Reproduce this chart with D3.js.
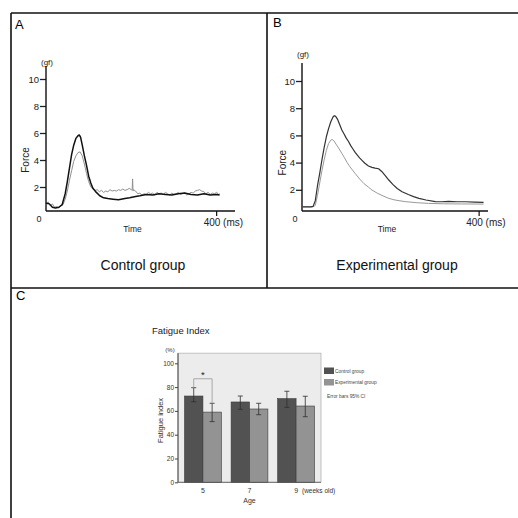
<!DOCTYPE html>
<html>
<head>
<meta charset="utf-8">
<script src="https://cdn.jsdelivr.net/npm/d3@7"></script>
<style>
  body { margin: 0; background: #fff; }
  svg { display: block; font-family: "Liberation Sans", Arial, sans-serif; }
</style>
</head>
<body>
<script>
// ---- data ----
// panel A, control group traces (ms, gf)
var ctlBlackT = [0,8,15,22,30,38,45,50,55,60,65,70,75,78,81,85,90,95,100,105,110,118,126,135,145,157,170,185,196,210,220,235,250,265,280,295,310,325,340,355,370,385,400,407];
var ctlBlackF = [0.8,0.75,0.5,0.45,0.5,0.7,1.5,2.4,3.4,4.4,5.1,5.6,5.8,5.85,5.7,5.1,4.3,3.6,2.8,2.3,1.9,1.6,1.35,1.2,1.15,1.1,1.05,1.15,1.2,1.3,1.35,1.45,1.4,1.5,1.45,1.4,1.5,1.55,1.45,1.4,1.5,1.4,1.45,1.4];
var ctlGrayT = [0,5,10,15,20,25,30,35,40,45,50,55,60,65,70,75,80,85,90,95,100,105,110,115,120,125,130,135,140,145,150,155,160,165,170,175,180,185,190,195,200,202,203,204,205,210,215,220,225,230,235,240,245,250,255,260,265,270,275,280,285,290,295,300,305,310,315,320,325,330,335,340,345,350,355,360,365,370,375,380,385,390,395,400,405,407];
var ctlGrayF = [0.7,0.9,0.6,0.75,0.5,0.55,0.45,0.6,0.7,1.1,1.7,2.5,3.2,3.9,4.3,4.55,4.6,4.3,3.7,3.0,2.4,2.0,1.85,1.75,1.8,1.65,1.75,1.6,1.7,1.65,1.8,1.7,1.75,1.7,1.8,1.75,1.85,1.75,1.8,1.9,1.8,1.8,2.6,1.7,1.8,1.7,1.5,1.55,1.4,1.5,1.45,1.6,1.5,1.55,1.4,1.6,1.5,1.55,1.45,1.6,1.5,1.4,1.55,1.45,1.5,1.6,1.45,1.5,1.55,1.4,1.5,1.6,1.55,1.7,1.75,1.8,1.7,1.65,1.5,1.6,1.45,1.55,1.5,1.6,1.45,1.5];

// panel B, experimental group traces (ms, gf)
var expDarkT = [0,20,25,30,35,40,45,50,55,60,65,70,73,76,80,85,90,95,100,105,110,115,120,125,130,136,142,150,158,165,173,180,188,196,205,215,226,240,252,264,280,301,315,331,350,369,390,410];
var expDarkF = [0.75,0.75,0.78,1.2,2.3,3.2,4.2,5.1,5.9,6.5,7.0,7.35,7.45,7.4,7.2,6.8,6.4,6.1,5.8,5.55,5.25,5.0,4.75,4.55,4.35,4.15,3.95,3.75,3.65,3.6,3.55,3.35,3.05,2.72,2.4,2.1,1.86,1.65,1.5,1.37,1.25,1.13,1.12,1.15,1.12,1.12,1.1,1.08];
var expGrayT = [0,25,30,35,40,45,50,55,60,65,68,72,78,84,90,96,102,108,114,120,130,140,150,158,170,183,196,210,233,260,286,320,360,410];
var expGrayF = [0.75,0.75,0.85,1.6,2.5,3.4,4.2,4.9,5.4,5.65,5.7,5.6,5.3,5.0,4.68,4.35,4.0,3.7,3.45,3.2,2.8,2.45,2.2,1.98,1.75,1.55,1.37,1.25,1.13,1.05,1.0,0.97,0.96,0.95];

var forceTicks = [2, 4, 6, 8, 10];

// panel C, fatigue index (%)
var ages = ["5", "7", "9"];
var groups = ["Control group", "Experimental group"];
var controlMean = [72.5, 67.5, 70.3];
var controlLo = [67.7, 61.3, 63.0];
var controlHi = [79.5, 72.5, 76.5];
var expMean = [59.0, 61.6, 64.1];
var expLo = [51.0, 56.8, 55.1];
var expHi = [66.4, 66.4, 72.3];
var fiTicks = [0, 20, 40, 60, 80, 100];

var svg = d3.select("body").append("svg")
    .attr("width", 518)
    .attr("height", 518);

// frame lines
var frame = svg.append("g").attr("stroke", "#111").attr("stroke-width", 1.6);
frame.append("line").attr("x1", 11).attr("x2", 518).attr("y1", 13).attr("y2", 13);
frame.append("line").attr("x1", 11).attr("x2", 11).attr("y1", 13).attr("y2", 518);
frame.append("line").attr("x1", 267).attr("x2", 267).attr("y1", 13).attr("y2", 288);
frame.append("line").attr("x1", 11).attr("x2", 518).attr("y1", 288).attr("y2", 288);

// panel letters
svg.append("text").attr("x", 15).attr("y", 29).attr("font-size", 13).text("A");
svg.append("text").attr("x", 273).attr("y", 27).attr("font-size", 13).text("B");
svg.append("text").attr("x", 16).attr("y", 300).attr("font-size", 13).text("C");

function zip(ts, fs) {
  return ts.map(function(t, i) { return [t, fs[i]]; });
}

// draws one force trace panel
function tracePanel(opt) {
  var g = svg.append("g");
  var x = d3.scaleLinear().domain([0, opt.xmax]).range([opt.x0, opt.x1]);
  var y = d3.scaleLinear().domain([0, 10]).range([opt.y0, opt.y10]);

  var yAxis = g.append("g")
      .attr("transform", "translate(" + opt.x0 + ",0)")
      .call(d3.axisLeft(y).tickValues(forceTicks).tickSize(6).tickPadding(1).tickSizeOuter(0));
  yAxis.select(".domain").remove();
  yAxis.selectAll("text").attr("font-size", 9.5).attr("font-family", "Liberation Sans, Arial, sans-serif").attr("fill", "#222");
  yAxis.selectAll("line").attr("stroke", "#222").attr("stroke-width", 1.3);

  g.append("line")
      .attr("x1", opt.x0).attr("x2", opt.x0)
      .attr("y1", opt.axisTop).attr("y2", opt.axisY)
      .attr("stroke", "#111").attr("stroke-width", 1.4);
  g.append("line")
      .attr("x1", opt.x0).attr("x2", opt.x1)
      .attr("y1", opt.axisY).attr("y2", opt.axisY)
      .attr("stroke", "#111").attr("stroke-width", 1.4);
  g.append("line")
      .attr("x1", x(400)).attr("x2", x(400))
      .attr("y1", opt.axisY).attr("y2", opt.axisY + 5)
      .attr("stroke", "#111").attr("stroke-width", 1.2);

  g.append("text").attr("x", opt.x0 - 7).attr("y", opt.axisY + 11)
      .attr("font-size", 9).attr("text-anchor", "middle").attr("fill", "#222").text("0");
  g.append("text").attr("x", x(400) - 13).attr("y", opt.axisY + 15)
      .attr("font-size", 10).attr("fill", "#222").text("400 (ms)");
  g.append("text").attr("x", (opt.x0 + opt.x1) / 2 - 8).attr("y", opt.axisY + 21)
      .attr("font-size", 8.5).attr("text-anchor", "middle").attr("fill", "#222").text("Time");
  g.append("text").attr("x", opt.x0 + 1).attr("y", opt.gfY)
      .attr("font-size", 8).attr("text-anchor", "middle").attr("fill", "#222").text("(gf)");
  g.append("text")
      .attr("transform", "translate(" + opt.forceX + "," + y(4) + ") rotate(-90)")
      .attr("font-size", 10).attr("text-anchor", "middle").attr("fill", "#222").text("Force");

  var line = d3.line()
      .x(function(d) { return x(d[0]); })
      .y(function(d) { return y(d[1]); });

  opt.series.forEach(function(s) {
    g.append("path")
        .datum(s.data)
        .attr("fill", "none")
        .attr("stroke", s.color)
        .attr("stroke-width", s.width)
        .attr("stroke-linejoin", "round")
        .attr("d", line);
  });

  svg.append("text").attr("x", opt.captionX).attr("y", 270)
      .attr("font-size", 14).attr("text-anchor", "middle").attr("fill", "#111").text(opt.caption);
}

tracePanel({
  x0: 46, x1: 235, xmax: 443, y0: 214, y10: 79, axisTop: 66, axisY: 211,
  gfY: 65, forceX: 29, captionX: 143, caption: "Control group",
  series: [
    { data: zip(ctlGrayT, ctlGrayF), color: "#909090", width: 1 },
    { data: zip(ctlBlackT, ctlBlackF), color: "#111", width: 1.5 }
  ]
});

tracePanel({
  x0: 302, x1: 488, xmax: 420, y0: 217, y10: 81, axisTop: 63, axisY: 211,
  gfY: 57, forceX: 286, captionX: 397, caption: "Experimental group",
  series: [
    { data: zip(expGrayT, expGrayF), color: "#9a9a9a", width: 1 },
    { data: zip(expDarkT, expDarkF), color: "#333", width: 1.2 }
  ]
});

// ---- panel C: bar chart ----
var c = svg.append("g");
var xb = d3.scaleBand().domain(ages).range([178, 321]).paddingInner(0.21).paddingOuter(0.14);
var xg = d3.scaleBand().domain(groups).range([0, xb.bandwidth()]);
var yb = d3.scaleLinear().domain([0, 100]).range([482.3, 363.3]);
var colors = d3.scaleOrdinal().domain(groups).range(["#525252", "#939393"]);

c.append("text").attr("x", 152).attr("y", 334).attr("font-size", 9.5).attr("fill", "#222").text("Fatigue Index");

c.append("rect")
    .attr("x", 178).attr("y", yb(108.5))
    .attr("width", 143).attr("height", yb(0) - yb(108.5))
    .attr("fill", "#ececec").attr("stroke", "#b5b5b5").attr("stroke-width", 0.8);

var rows = ages.map(function(a, i) {
  return [
    { age: a, group: groups[0], v: controlMean[i], lo: controlLo[i], hi: controlHi[i] },
    { age: a, group: groups[1], v: expMean[i], lo: expLo[i], hi: expHi[i] }
  ];
});
var flat = [].concat.apply([], rows);

c.selectAll(".bar")
    .data(flat)
  .enter().append("rect")
    .attr("class", "bar")
    .attr("x", function(d) { return xb(d.age) + xg(d.group); })
    .attr("width", xg.bandwidth())
    .attr("y", function(d) { return yb(d.v); })
    .attr("height", function(d) { return yb(0) - yb(d.v); })
    .attr("fill", function(d) { return colors(d.group); })
    .attr("stroke", "#3a3a3a")
    .attr("stroke-width", 0.6);

var eb = c.selectAll(".err")
    .data(flat)
  .enter().append("g")
    .attr("class", "err")
    .attr("stroke", "#2e2e2e")
    .attr("stroke-width", 0.8);
eb.append("line")
    .attr("x1", function(d) { return xb(d.age) + xg(d.group) + xg.bandwidth() / 2; })
    .attr("x2", function(d) { return xb(d.age) + xg(d.group) + xg.bandwidth() / 2; })
    .attr("y1", function(d) { return yb(d.lo); })
    .attr("y2", function(d) { return yb(d.hi); });
["lo", "hi"].forEach(function(k) {
  eb.append("line")
      .attr("x1", function(d) { return xb(d.age) + xg(d.group) + xg.bandwidth() / 2 - 2.5; })
      .attr("x2", function(d) { return xb(d.age) + xg(d.group) + xg.bandwidth() / 2 + 2.5; })
      .attr("y1", function(d) { return yb(d[k]); })
      .attr("y2", function(d) { return yb(d[k]); });
});

// significance bracket between the two 5-week bars
var bx1 = xb("5") + xg(groups[0]) + xg.bandwidth() / 2;
var bx2 = xb("5") + xg(groups[1]) + xg.bandwidth() / 2;
var byTop = yb(87);
c.append("path")
    .attr("d", "M" + bx1 + "," + yb(controlHi[0]) + "V" + byTop + "H" + bx2 + "V" + yb(expHi[0]))
    .attr("fill", "none").attr("stroke", "#a8a8a8").attr("stroke-width", 1);
c.append("text").attr("x", (bx1 + bx2) / 2).attr("y", byTop - 0.5)
    .attr("font-size", 9.5).attr("text-anchor", "middle").attr("fill", "#222").text("*");

// axes
var ya = c.append("g")
    .attr("transform", "translate(178,0)")
    .call(d3.axisLeft(yb).tickValues(fiTicks).tickSize(3).tickPadding(1).tickSizeOuter(0));
ya.select(".domain").attr("d", "M0," + yb(108.5) + "V" + yb(0)).attr("stroke", "#444");
ya.selectAll("text").attr("font-size", 6.5).attr("fill", "#333");
ya.selectAll("line").attr("stroke", "#444");

c.append("line").attr("x1", 178).attr("x2", 321).attr("y1", yb(0)).attr("y2", yb(0))
    .attr("stroke", "#555").attr("stroke-width", 0.8);

c.selectAll(".agel")
    .data(ages)
  .enter().append("text")
    .attr("class", "agel")
    .attr("x", function(d) { return xb(d) + xb.bandwidth() / 2; })
    .attr("y", 493)
    .attr("font-size", 7).attr("text-anchor", "middle").attr("fill", "#333")
    .text(function(d) { return d; });
c.append("text").attr("x", 302).attr("y", 493).attr("font-size", 6.5).attr("fill", "#333").text("(weeks old)");
c.append("text").attr("x", xb("7") + xb.bandwidth() / 2).attr("y", 502.5)
    .attr("font-size", 7).attr("text-anchor", "middle").attr("fill", "#333").text("Age");
c.append("text").attr("x", 170).attr("y", 352).attr("font-size", 6).attr("text-anchor", "middle").attr("fill", "#333").text("(%)");
c.append("text")
    .attr("transform", "translate(163," + yb(52) + ") rotate(-90)")
    .attr("font-size", 7.5).attr("text-anchor", "middle").attr("fill", "#333").text("Fatigue index");

// legend
var lg = c.selectAll(".lg")
    .data(groups)
  .enter().append("g")
    .attr("class", "lg")
    .attr("transform", function(d, i) { return "translate(324," + (367.5 + i * 11.5) + ")"; });
lg.append("rect").attr("width", 10).attr("height", 6.5)
    .attr("fill", function(d) { return colors(d); });
lg.append("text").attr("x", 11).attr("y", 5).attr("font-size", 4.8).attr("fill", "#444")
    .text(function(d) { return d; });
c.append("text").attr("x", 327).attr("y", 397.5).attr("font-size", 4.8).attr("fill", "#444").text("Error bars 95% CI");
</script>
</body>
</html>
